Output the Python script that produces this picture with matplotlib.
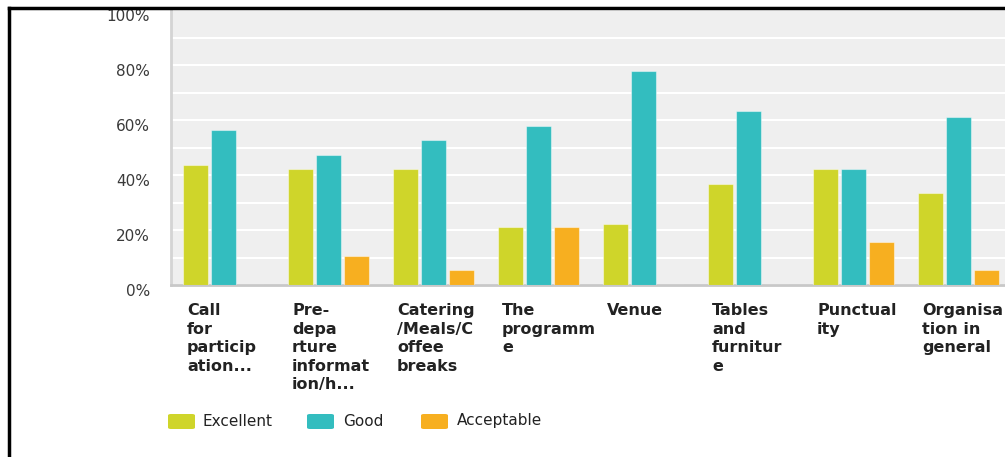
import matplotlib
matplotlib.use("Agg")
import matplotlib.pyplot as plt
import matplotlib.transforms as mtransforms
from matplotlib.patches import FancyBboxPatch
from matplotlib.lines import Line2D
import numpy as np

categories = [
    "Call\nfor\nparticip\nation...",
    "Pre-\ndepa\nrture\ninformat\nion/h...",
    "Catering\n/Meals/C\noffee\nbreaks",
    "The\nprogramm\ne",
    "Venue",
    "Tables\nand\nfurnitur\ne",
    "Punctual\nity",
    "Organisa\ntion in\ngeneral",
]
series_names = ["Excellent", "Good", "Acceptable"]
excellent = [43.8, 42.1, 42.1, 21.1, 22.2, 36.8, 42.1, 33.3]
good = [56.2, 47.4, 52.6, 57.9, 77.8, 63.2, 42.1, 61.1]
acceptable = [0.0, 10.5, 5.3, 21.1, 0.0, 0.0, 15.8, 5.6]
y_ticks = [0, 20, 40, 60, 80, 100]
y_tick_labels = ["0%", "20%", "40%", "60%", "80%", "100%"]

colors = ["#cfd52a", "#33bdbf", "#f7af20"]

W, H = 1005, 457
fig = plt.figure(figsize=(W / 100, H / 100), dpi=100)
fig.patch.set_facecolor("white")

# plot area in pixel terms
left_px, right_px, top_px, base_px = 171, 1011, 10, 285
ax = fig.add_axes([left_px / W, 1 - base_px / H,
                   (right_px - left_px) / W, (base_px - top_px) / H])
ax.set_facecolor("#efefef")

x = np.arange(len(categories))
bar_w = 0.238
step = 0.267
for k, vals in enumerate([excellent, good, acceptable]):
    ax.bar(x + (k - 1) * step, vals, width=bar_w, color=colors[k],
           edgecolor=(1, 1, 1, 0.45), linewidth=0.8, zorder=3)

ax.set_xlim(-0.5, len(categories) - 0.5)
ax.set_ylim(0, 100)
ax.set_yticks(y_ticks)
ax.set_yticks(np.arange(10, 100, 20), minor=True)
ax.yaxis.grid(True, which="both", color="white", linewidth=1.5, zorder=1)
ax.set_axisbelow(True)
ax.set_yticklabels(y_tick_labels, fontsize=11, color="#3a3a3a",
                   family="DejaVu Sans")
ax.tick_params(axis="y", which="both", length=0, pad=15)
ax.tick_params(axis="x", length=0)
ax.set_xticks([])

offset = mtransforms.ScaledTranslation(0, -5 / 100, fig.dpi_scale_trans)
for lbl in ax.get_yticklabels():
    lbl.set_transform(lbl.get_transform() + offset)

for side in ["top", "right"]:
    ax.spines[side].set_visible(False)
ax.spines["left"].set_color("#d4d4d4")
ax.spines["left"].set_linewidth(2)
ax.spines["bottom"].set_color("#c8c8c8")
ax.spines["bottom"].set_linewidth(2)

# category labels, left aligned under each group
trans = mtransforms.blended_transform_factory(ax.transData, fig.transFigure)
for i, cat in enumerate(categories):
    ax.text(i - 0.5 + 16 / 105, 1 - 303 / H, cat, transform=trans,
            ha="left", va="top", fontsize=11.5, fontweight="bold",
            color="#222222", family="DejaVu Sans", linespacing=1.3,
            clip_on=False)

# legend
leg_items = [(168, 202), (307, 343), (421, 457)]
for (sx, tx), name, col in zip(leg_items, series_names, colors):
    patch = FancyBboxPatch((sx / W, 1 - 429 / H), 27 / W, 15 / H,
                           boxstyle="round,pad=0,rounding_size=0.003",
                           transform=fig.transFigure, facecolor=col,
                           edgecolor="none")
    fig.patches.append(patch)
    fig.text(tx / W, 1 - 421 / H, name, ha="left", va="center",
             fontsize=11, color="#222222", family="DejaVu Sans")

# outer frame
fig.add_artist(Line2D([9 / W, 1.0], [1 - 8 / H, 1 - 8 / H],
                      transform=fig.transFigure, color="black", linewidth=2.5))
fig.add_artist(Line2D([9 / W, 9 / W], [1 - 8 / H, 0.0],
                      transform=fig.transFigure, color="black", linewidth=2.5))

fig.savefig("out.png", dpi=100)
